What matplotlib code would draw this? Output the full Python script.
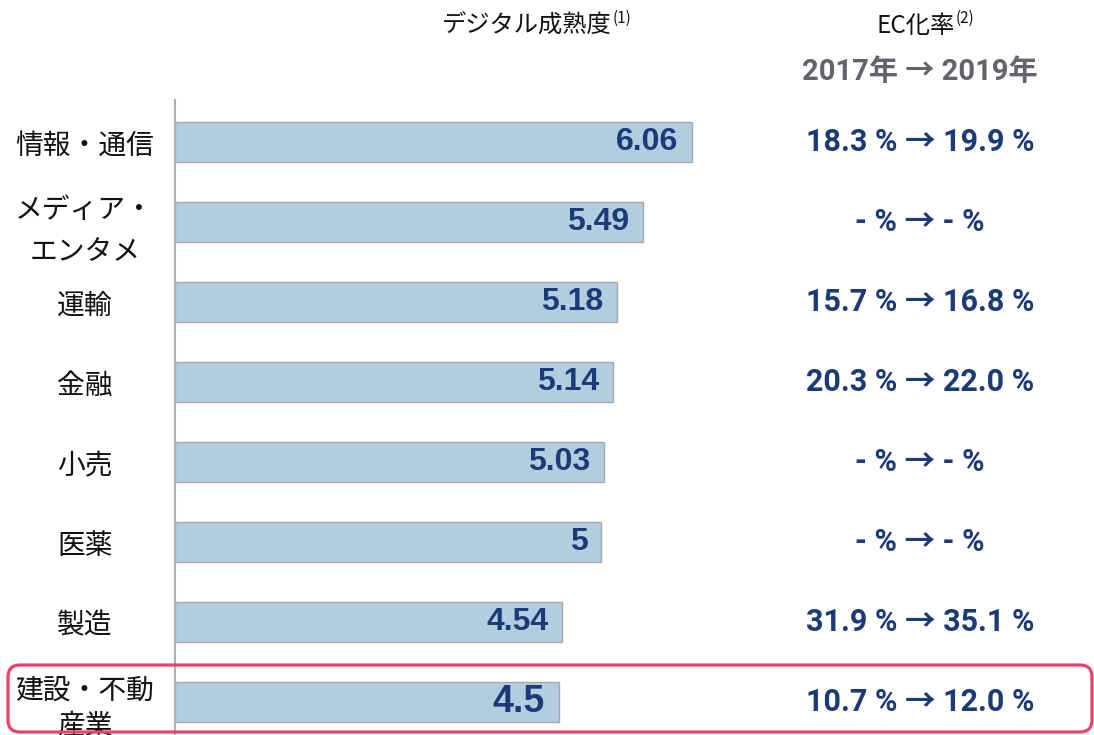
import matplotlib
matplotlib.use("Agg")
import matplotlib.pyplot as plt
from matplotlib import transforms
from matplotlib.patches import FancyBboxPatch

# ---- data ----
categories = ["情報・通信", "メディア・\nエンタメ", "運輸", "金融", "小売", "医薬", "製造", "建設・不動\n産業"]
maturity = [6.06, 5.49, 5.18, 5.14, 5.03, 5, 4.54, 4.5]
ec_2017 = ["18.3", "-", "15.7", "20.3", "-", "-", "31.9", "10.7"]
ec_2019 = ["19.9", "-", "16.8", "22.0", "-", "-", "35.1", "12.0"]
header_left = "デジタル成熟度"
header_right = "EC化率"
years_label = "2017年 → 2019年"

CJK = ["Noto Sans CJK JP", "DejaVu Sans"]
NUM = ["Liberation Sans", "DejaVu Sans"]
RNUM = ["Roboto", "Noto Sans CJK JP", "DejaVu Sans"]
NAVY = "#1b3a78"
BAR = "#b3cde0"

plt.rcParams["font.family"] = CJK

W, H = 1094, 735
fig = plt.figure(figsize=(W / 100, H / 100), dpi=100)
ax = fig.add_axes([175 / W, 0.0, 585 / W, 1 - 100 / H])

n = len(categories)
ypos = list(range(n))
ax.barh(ypos, maturity, height=0.5, color=BAR, edgecolor="#a8a8a8", linewidth=1.0, zorder=2)
ax.set_xlim(0, 585 / 85.3)
ax.set_ylim(n - 1 + 33 / 80, -42 / 80)

for s in ["top", "right", "bottom"]:
    ax.spines[s].set_visible(False)
ax.spines["left"].set_color("#b0b0b0")
ax.spines["left"].set_linewidth(1.5)
ax.set_xticks([])
ax.set_yticks(ypos)
ticklabels = ax.set_yticklabels(categories, fontsize=20, family=CJK, ha="center",
                                multialignment="center", linespacing=1.5, color="#111111")
ticklabels[-1].set_linespacing(1.2)
ax.tick_params(axis="y", length=0, pad=65)

for i, v in enumerate(maturity):
    last = i == n - 1
    ax.annotate(f"{v:g}", xy=(v, i), xytext=(-10, 0), textcoords="offset points",
                ha="right", va="center", fontsize=27 if last else 23,
                fontweight="bold", color=NAVY, family=NUM)

tr = transforms.blended_transform_factory(fig.transFigure, ax.transData)
for i in range(n):
    ax.text(920 / W, i, f"{ec_2017[i]} % → {ec_2019[i]} %", transform=tr,
            ha="center", va="center", fontsize=22, fontweight="bold",
            color=NAVY, family=RNUM)

# headers
fig.text(612 / W, 1 - 26 / H, header_left, ha="right", va="center",
         fontsize=17.5, family=CJK, color="#111111")
fig.text(613 / W, 1 - 18 / H, "(1)", ha="left", va="center",
         fontsize=11, family=CJK, color="#111111")
fig.text(955 / W, 1 - 26 / H, header_right, ha="right", va="center",
         fontsize=17.5, family=CJK, color="#111111")
fig.text(956 / W, 1 - 18 / H, "(2)", ha="left", va="center",
         fontsize=11, family=CJK, color="#111111")
fig.text(920 / W, 1 - 72 / H, years_label, ha="center", va="center",
         fontsize=21, fontweight="bold", family=RNUM, color="#63636b")

# highlight box
box = FancyBboxPatch((0.08, 0.03), 10.84, 0.67, boxstyle="round,pad=0,rounding_size=0.12",
                     transform=fig.dpi_scale_trans, fill=False, edgecolor="#e8436a",
                     linewidth=2.3, zorder=5)
fig.add_artist(box)

fig.savefig("out.png", dpi=100)
